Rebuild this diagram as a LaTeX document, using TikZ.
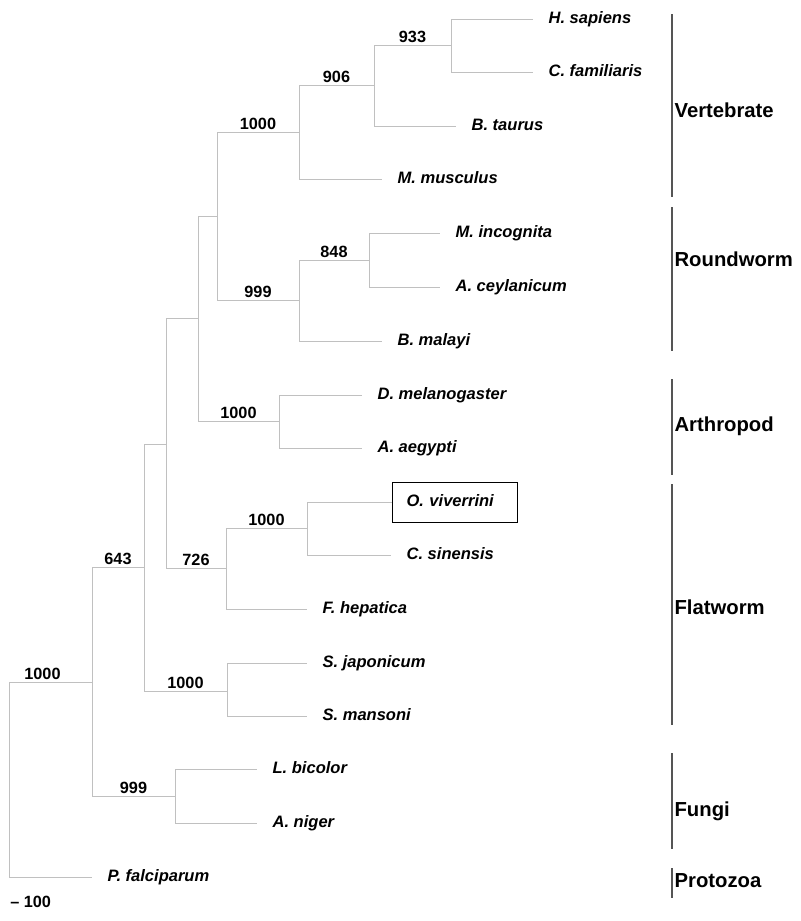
\documentclass[tikz,border=0pt]{standalone}
\usepackage{fontspec}
\setmainfont{Liberation Sans}
\usepackage{tikz}
\usetikzlibrary{positioning}
\usepackage{xcolor}
\definecolor{treegray}{RGB}{192,192,192}
\definecolor{bargray}{RGB}{85,85,85}

\begin{document}
\begin{tikzpicture}[
      x=0.75pt, y=-0.75pt,
      tree/.style={draw=treegray, line width=0.75pt},
      leaf/.style={anchor=west, inner xsep=11.5pt, inner ysep=0pt,
          font=\fontsize{12.4}{14}\selectfont\bfseries\itshape,
          text height=0.72em, text depth=0pt},
      boot/.style={above, inner sep=1.5pt,
          font=\fontsize{12.2}{14}\selectfont\bfseries},
      hilite/.style={leaf, draw=black, line width=0.75pt,
          inner xsep=10.5pt, text width=72.75pt, align=left,
          minimum height=30pt},
      clade/.style={draw=bargray, line width=1.2pt},
      cladelab/.style={anchor=west, inner xsep=1pt, inner ysep=0pt,
          font=\fontsize{15.2}{17}\selectfont\bfseries,
          text height=0.72em, text depth=0pt},
    ]
    \useasboundingbox (0,0) rectangle (800,921);

    %% --- Internal nodes ---
    \coordinate (root)   at (9,779);
    \coordinate (n92)    at (92,682);
    \coordinate (n643)   at (144,567);
    \coordinate (nfungi) at (175,796);
    \coordinate (nanim)  at (166,444);
    \coordinate (nschis) at (227,691);
    \coordinate (nvra)   at (198,318);
    \coordinate (n726)   at (226,568);
    \coordinate (nvr)    at (217,216);
    \coordinate (narth)  at (279,421);
    \coordinate (nvert)  at (299,132);
    \coordinate (nround) at (299,300);
    \coordinate (n906)   at (374,85);
    \coordinate (n933)   at (451,45);
    \coordinate (n848)   at (369,260);
    \coordinate (nopis)  at (307,528);

    %% --- Leaves ---
    \node[leaf] (hsap)  at (533,19)  {H. sapiens};
    \node[leaf] (cfam)  at (533,72)  {C. familiaris};
    \node[leaf] (btau)  at (456,126) {B. taurus};
    \node[leaf] (mmus)  at (382,179) {M. musculus};
    \node[leaf] (minc)  at (440,233) {M. incognita};
    \node[leaf] (acey)  at (440,287) {A. ceylanicum};
    \node[leaf] (bmal)  at (382,341) {B. malayi};
    \node[leaf] (dmel)  at (362,395) {D. melanogaster};
    \node[leaf] (aaeg)  at (362,448) {A. aegypti};
    \node[hilite] (oviv) at (392,502) {O. viverrini};
    \node[leaf] (csin)  at (391,555) {C. sinensis};
    \node[leaf] (fhep)  at (307,609) {F. hepatica};
    \node[leaf] (sjap)  at (307,663) {S. japonicum};
    \node[leaf] (sman)  at (307,716) {S. mansoni};
    \node[leaf] (lbic)  at (257,769) {L. bicolor};
    \node[leaf] (anig)  at (257,823) {A. niger};
    \node[leaf] (pfal)  at (92,877)  {P. falciparum};

    %% --- Branches ---
    \draw[tree] (root) |- (n92) node[boot, pos=0.75, xshift=-6pt] {1000};
    \draw[tree] (root) |- (pfal.west);
    \draw[tree] (n92) |- (n643) node[boot, pos=0.75] {643};
    \draw[tree] (n92) |- (nfungi) node[boot, pos=0.75] {999};
    \draw[tree] (nfungi) |- (lbic.west);
    \draw[tree] (nfungi) |- (anig.west);
    \draw[tree] (n643) |- (nanim);
    \draw[tree] (n643) |- (nschis) node[boot, pos=0.75] {1000};
    \draw[tree] (nschis) |- (sjap.west);
    \draw[tree] (nschis) |- (sman.west);
    \draw[tree] (nanim) |- (nvra);
    \draw[tree] (nanim) |- (n726) node[boot, pos=0.75] {726};
    \draw[tree] (n726) |- (nopis) node[boot, pos=0.75] {1000};
    \draw[tree] (n726) |- (fhep.west);
    \draw[tree] (nopis) |- (oviv.west);
    \draw[tree] (nopis) |- (csin.west);
    \draw[tree] (nvra) |- (nvr);
    \draw[tree] (nvra) |- (narth) node[boot, pos=0.75] {1000};
    \draw[tree] (narth) |- (dmel.west);
    \draw[tree] (narth) |- (aaeg.west);
    \draw[tree] (nvr) |- (nvert) node[boot, pos=0.75] {1000};
    \draw[tree] (nvr) |- (nround) node[boot, pos=0.75] {999};
    \draw[tree] (nround) |- (n848) node[boot, pos=0.75] {848};
    \draw[tree] (nround) |- (bmal.west);
    \draw[tree] (n848) |- (minc.west);
    \draw[tree] (n848) |- (acey.west);
    \draw[tree] (nvert) |- (n906) node[boot, pos=0.75] {906};
    \draw[tree] (nvert) |- (mmus.west);
    \draw[tree] (n906) |- (n933) node[boot, pos=0.75] {933};
    \draw[tree] (n906) |- (btau.west);
    \draw[tree] (n933) |- (hsap.west);
    \draw[tree] (n933) |- (cfam.west);

    %% --- Scale ---
    \node[anchor=west, inner sep=0pt, font=\fontsize{12.2}{14}\selectfont\bfseries,
      text height=0.72em, text depth=0pt] (scale) at (10,903) {-- 100};

    %% --- Clade bars ---
    \draw[clade] (672,14)  -- (672,197);
    \draw[clade] (672,207) -- (672,351);
    \draw[clade] (672,379) -- (672,475);
    \draw[clade] (672,484) -- (672,725);
    \draw[clade] (672,753) -- (672,849);
    \draw[clade] (672,868) -- (672,898);
    \node[cladelab] (vert)  at (673,113) {Vertebrate};
    \node[cladelab] (round) at (673,262) {Roundworm};
    \node[cladelab] (arth)  at (673,427) {Arthropod};
    \node[cladelab] (flat)  at (673,610) {Flatworm};
    \node[cladelab] (fungi) at (673,812) {Fungi};
    \node[cladelab] (proto) at (673,883) {Protozoa};

  \end{tikzpicture}
\end{document}
